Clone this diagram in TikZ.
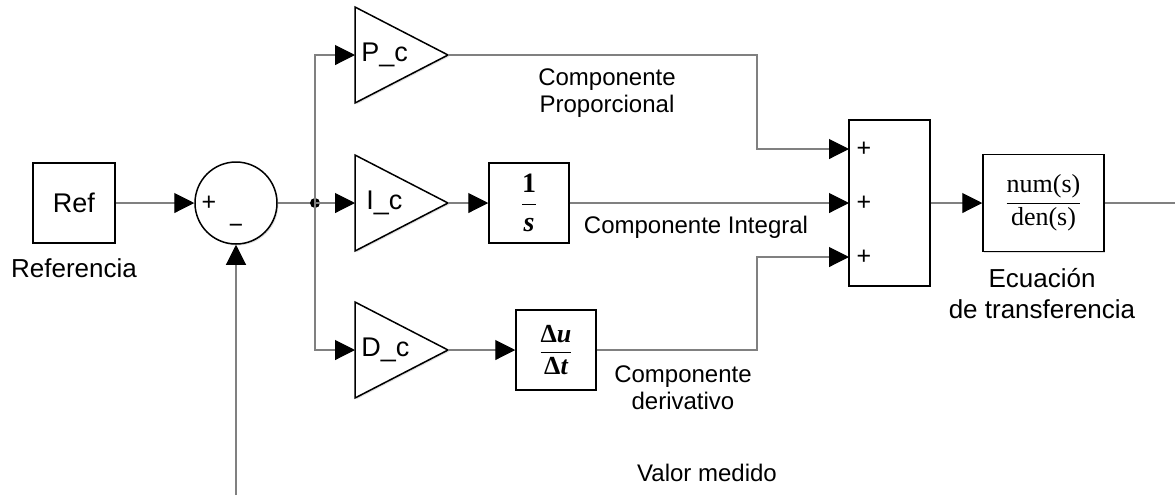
\documentclass[tikz,border=0pt]{standalone}
\usepackage{fontspec}
\setmainfont{Liberation Sans}
\newfontfamily\serif{Liberation Serif}
\usetikzlibrary{arrows.meta,shadows}

\tikzset{
  blk/.style={draw=black, line width=0.75pt, fill=white, inner sep=0pt,
    drop shadow={opacity=0.25, shadow xshift=0.7pt, shadow yshift=-0.7pt}},
  wire/.style={draw=black!50, line width=0.55pt},
  sig/.style={wire, -{Triangle[length=10pt, width=10pt, color=black]}},
  blktxt/.style={font=\fontsize{13.5}{16}\selectfont, inner sep=0pt},
  lbl/.style={font=\fontsize{12}{13.5}\selectfont, align=center, inner sep=0pt},
  sgn/.style={font=\fontsize{12.5}{14}\selectfont, inner sep=0pt}
}

\begin{document}
\begin{tikzpicture}[x=0.5pt, y=-0.5pt]
  \useasboundingbox (0,0) rectangle (1175,495);

  % reference and error sum
  \node[blk, minimum width=41pt, minimum height=40pt, blktxt] (ref) at (74,203) {Ref};
  \node[lbl, font=\fontsize{13}{15}\selectfont] (reflbl) at (74,268) {Referencia};
  \node[blk, circle, minimum size=41pt] (sum) at (236,203) {};
  \node[sgn] (sumplus) at (209,203) {+};
  \node[sgn] (summinus) at (236,229) {−};
  \coordinate (meas) at (236,495);
  \coordinate (br) at (315,203);

  % gains
  \draw[blk] (355,7) -- (448,55) -- (355,103) -- cycle;
  \draw[blk] (355,155) -- (448,203) -- (355,251) -- cycle;
  \draw[blk] (355,302) -- (448,350) -- (355,398) -- cycle;
  \coordinate (pin) at (355,55);   \coordinate (pout) at (448,55);
  \coordinate (iin) at (355,203);  \coordinate (iout) at (448,203);
  \coordinate (din) at (355,350);  \coordinate (dout) at (448,350);
  \node[blktxt, anchor=west] (ptxt) at (361,55) {P\_c};
  \node[blktxt, anchor=west] (itxt) at (366,203) {I\_c};
  \node[blktxt, anchor=west] (dtxt) at (361,350) {D\_c};

  % integral and derivative
  \node[blk, minimum width=40pt, minimum height=40pt, font=\fontsize{14}{16}\selectfont] (integ) at (529,203)
    {$\displaystyle\frac{\mbox{\serif\bfseries 1}}{\mbox{\serif\bfseries\itshape s}}$};
  \node[blk, minimum width=40pt, minimum height=40pt, font=\fontsize{13}{15}\selectfont] (deriv) at (556,350)
    {$\displaystyle\frac{\mbox{\serif\bfseries Δ\itshape u}}{\mbox{\serif\bfseries Δ\itshape t}}$};

  % summation and plant
  \node[blk, minimum width=40.5pt, minimum height=83pt] (sumc) at (889.5,203) {};
  \coordinate (s1) at (849,149);
  \coordinate (s2) at (849,203);
  \coordinate (s3) at (849,257);
  \node[sgn] (p1) at (864,149) {+};
  \node[sgn] (p2) at (864,203) {+};
  \node[sgn] (p3) at (864,257) {+};
  \node[blk, minimum width=60.5pt, minimum height=48.5pt, font=\fontsize{13}{15}\selectfont] (tf) at (1043.5,203)
    {$\displaystyle\frac{\mbox{\serif num(s)}}{\mbox{\serif den(s)}}$};
  \node[lbl, font=\fontsize{13}{15.5}\selectfont] (tflbl) at (1042,294) {Ecuación\\de transferencia};
  \coordinate (out) at (1175,203);

  % labels
  \node[lbl] (plbl) at (607,93) {Componente\\Proporcional};
  \node[lbl] (ilbl) at (696,227) {Componente Integral};
  \node[lbl] (dlbl) at (683,388) {Componente\\derivativo};
  \node[lbl] (mlbl) at (707,473) {Valor medido};

  % signals
  \draw[sig] (ref) -- (sum);
  \draw[sig] (meas) -- (sum.south);
  \draw[wire] (sum.east) -- (br);
  \fill (br) circle (2.5pt);
  \draw[sig] (br) |- (pin);
  \draw[sig] (br) -- (iin);
  \draw[sig] (br) |- (din);
  \draw[sig] (iout) -- (integ.west);
  \draw[sig] (dout) -- (deriv.west);
  \draw[sig] (pout) -| (757,149) -- (s1);
  \draw[sig] (integ.east) -- (s2);
  \draw[sig] (deriv.east) -| (757,257) -- (s3);
  \draw[sig] (sumc.east) -- (tf.west);
  \draw[wire] (tf.east) -- (out);
\end{tikzpicture}
\end{document}
